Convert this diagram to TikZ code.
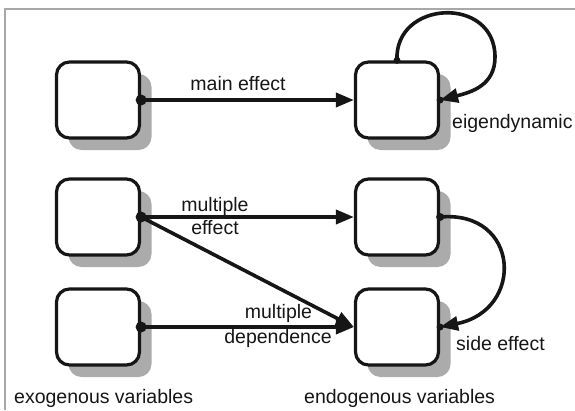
\documentclass[tikz,border=0pt]{standalone}
\usepackage{fontspec}
\setmainfont{Liberation Sans}
\usetikzlibrary{arrows.meta,shadows}
\definecolor{ink}{HTML}{161616}
\definecolor{framegray}{HTML}{A8A8A8}
\begin{document}
\begin{tikzpicture}[x=1pt,y=-1pt,
  varbox/.style={draw=ink, line width=3.2pt, rounded corners=13pt, fill=white,
    minimum width=83pt, minimum height=76pt, inner sep=0pt,
    drop shadow={shadow xshift=12pt, shadow yshift=-12pt, fill=black!33, opacity=1}},
  conn/.style={line width=3.6pt, draw=ink, -{Triangle[length=18pt,width=14pt]}},
  dotmark/.style={fill=ink},
  lbl/.style={font=\fontsize{19.5}{23}\selectfont, text=ink, inner sep=0pt}]
\useasboundingbox (0,0) rectangle (575,410);
% frame
\draw[framegray, line width=2pt] (5,410) -- (5,9) -- (575,9);
% boxes
\node[varbox] (x1) at (98,100) {};
\node[varbox] (x2) at (98,217) {};
\node[varbox] (x3) at (98,327) {};
\node[varbox] (y1) at (397,100) {};
\node[varbox] (y2) at (397,217) {};
\node[varbox] (y3) at (397,327) {};
% connectors
\draw[conn] (x1.east) -- (y1.west);
\draw[conn] (x2.east) -- (y2.west);
\draw[conn] (x2.east) -- (y3.west);
\draw[conn] (x3.east) -- (y3.west);
\draw[conn] (y1.north) .. controls (394,0) and (495,-5) .. (495,57)
   .. controls (495,85) and (472,92) .. (y1.east);
\draw[conn] (y2.east) .. controls (520,210) and (525,310) .. (y3.east);
% dots
\fill[dotmark] (x1.east) circle (5.5pt);
\fill[dotmark] (x2.east) circle (5.5pt);
\fill[dotmark] (x3.east) circle (5.5pt);
\fill[dotmark] (y1.north) circle (3.5pt);
\fill[dotmark] (y2.east) circle (4pt);
\fill[dotmark] (y1.east) circle (3.5pt);
\fill[dotmark] (y3.east) circle (3.5pt);
% labels
\node[lbl, anchor=base] (lmain) at (238,90) {main effect};
\node[lbl, anchor=base west] (leig) at (452,128) {eigendynamic};
\node[lbl, anchor=base] (lmult1) at (215,211) {multiple};
\node[lbl, anchor=base] (leff) at (215,234) {effect};
\node[lbl, anchor=base] (lmult2) at (278.5,318) {multiple};
\node[lbl, anchor=base] (ldep) at (278,343) {dependence};
\node[lbl, anchor=base west] (lside) at (456,350) {side effect};
\node[lbl, anchor=base west] (lexo) at (14,403) {exogenous variables};
\node[lbl, anchor=base west] (lendo) at (304,403) {endogenous variables};
\end{tikzpicture}
\end{document}
